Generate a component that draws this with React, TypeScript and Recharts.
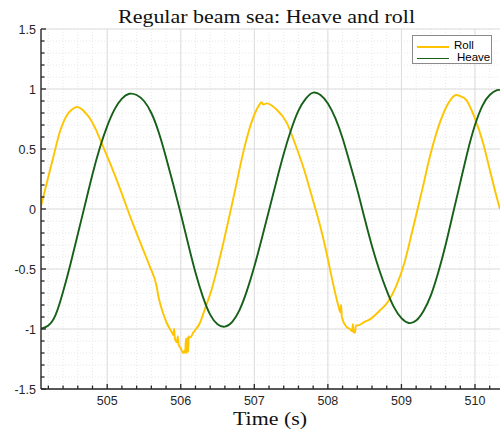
import { LineChart, Line, XAxis, YAxis, CartesianGrid, Legend } from "recharts";

// Roll (yellow) samples
const rollTime = [
  504.09, 504.18, 504.27, 504.36, 504.45, 504.52, 504.59, 504.66, 504.72, 504.78, 504.84,
  504.93, 505.04, 505.18, 505.31, 505.45, 505.58, 505.67, 505.7, 505.75, 505.81,
  505.88, 505.9, 505.91, 505.92, 505.95, 505.96, 505.97, 506.0, 506.03, 506.05,
  506.06, 506.07, 506.08, 506.09, 506.1, 506.11, 506.13, 506.17, 506.26, 506.33,
  506.42, 506.51, 506.58, 506.65, 506.74, 506.83, 506.92, 507.01, 507.07, 507.1,
  507.12, 507.17, 507.3, 507.44, 507.55, 507.66, 507.78, 507.85, 507.89, 507.98,
  508.07, 508.14, 508.17, 508.18, 508.19, 508.25, 508.3, 508.33, 508.34, 508.35,
  508.37, 508.38, 508.41, 508.5, 508.57, 508.7, 508.82, 508.93, 509.04, 509.13,
  509.22, 509.29, 509.38, 509.5, 509.61, 509.68, 509.74, 509.8, 509.88, 509.99,
  510.11, 510.2, 510.29, 510.34,
];
const rollValue = [
  0, 0.22, 0.44, 0.65, 0.78, 0.83, 0.85, 0.83, 0.79, 0.74, 0.67,
  0.54, 0.38, 0.16, -0.06, -0.28, -0.48, -0.64, -0.74, -0.85, -0.95,
  -1.03, -1.05, -1.0, -1.08, -1.11, -1.06, -1.13, -1.16, -1.2, -1.18,
  -1.2, -1.08, -1.2, -1.07, -1.19, -1.06, -1.07, -1.03, -0.95, -0.83,
  -0.67, -0.46, -0.28, -0.09, 0.16, 0.42, 0.64, 0.8, 0.87, 0.89,
  0.87, 0.88, 0.83, 0.72, 0.55, 0.36, 0.11, -0.04, -0.13, -0.36,
  -0.62, -0.8, -0.86, -0.8, -0.9, -0.98, -1.0, -1.02, -0.96, -1.03,
  -1.03, -0.97, -0.97, -0.94, -0.92, -0.85, -0.77, -0.64, -0.45, -0.23,
  0.0, 0.18, 0.42, 0.68, 0.85, 0.92, 0.95, 0.94, 0.91, 0.77,
  0.55, 0.33, 0.11, 0.0,
];

// Heave (green) samples
const heaveTime = [
  504.09, 504.2, 504.3, 504.4, 504.5, 504.6, 504.7, 504.8, 504.9, 505.0,
  505.1, 505.2, 505.3, 505.4, 505.5, 505.6, 505.7, 505.8, 505.9, 506.0,
  506.1, 506.2, 506.3, 506.4, 506.5, 506.6, 506.7, 506.8, 506.9, 507.0,
  507.1, 507.2, 507.3, 507.4, 507.5, 507.6, 507.7, 507.8, 507.9, 508.0,
  508.1, 508.2, 508.3, 508.4, 508.5, 508.6, 508.7, 508.8, 508.9, 509.0,
  509.1, 509.2, 509.3, 509.4, 509.5, 509.6, 509.7, 509.8, 509.9, 510.0,
  510.1, 510.2, 510.3, 510.34,
];
const heaveValue = [
  -1.0, -0.97, -0.88, -0.69, -0.46, -0.21, 0.04, 0.29, 0.51, 0.69,
  0.83, 0.92, 0.96, 0.95, 0.9, 0.8, 0.64, 0.43, 0.2, -0.04,
  -0.29, -0.53, -0.73, -0.88, -0.96, -0.98, -0.94, -0.84, -0.68, -0.48,
  -0.25, -0.01, 0.23, 0.46, 0.66, 0.82, 0.92, 0.97, 0.95, 0.88,
  0.76, 0.59, 0.38, 0.16, -0.08, -0.31, -0.51, -0.68, -0.82, -0.91,
  -0.95, -0.93, -0.85, -0.72, -0.53, -0.3, -0.04, 0.22, 0.48, 0.7,
  0.86, 0.95, 0.99, 0.99,
];

const xMajorTicks = [505, 506, 507, 508, 509, 510];
const yMajorTicks = [-1.5, -1, -0.5, 0, 0.5, 1, 1.5];
const seriesNames = ["Roll", "Heave"];

const X_DOMAIN = [504.1, 510.34];
const Y_DOMAIN = [-1.5, 1.5];

const ROLL_COLOR = "#ffc400";
const HEAVE_COLOR = "#17601a";
const AXIS_COLOR = "#262626";
const FONT = "'Liberation Sans', Arial, Helvetica, sans-serif";
const SERIF = "'Liberation Serif', 'Times New Roman', serif";

const rollData = rollTime.map((t, i) => ({ t, v: rollValue[i] }));
const heaveData = heaveTime.map((t, i) => ({ t, v: heaveValue[i] }));

const steps = (from: number, to: number, step: number) => {
  const out: number[] = [];
  for (let v = from; v <= to + 1e-9; v += step) out.push(Math.round(v * 10) / 10);
  return out;
};
const xAllTicks = steps(504.2, 510.2, 0.2);
const yAllTicks = steps(-1.5, 1.5, 0.1);
const isMajor = (v: number, majors: number[]) => majors.some(m => Math.abs(m - v) < 1e-6);

const BottomTick = ({ x, y, payload }: any) => {
  const major = isMajor(payload.value, xMajorTicks);
  return (
    <g>
      <line x1={x} x2={x} y1={y} y2={y - (major ? 5 : 3.5)} stroke={AXIS_COLOR} strokeWidth={1.3} />
      {major && (
        <text x={x} y={y + 16} textAnchor="middle" fontSize={12.5} fontFamily={FONT} fill={AXIS_COLOR}>
          {payload.value}
        </text>
      )}
    </g>
  );
};

const TopTick = ({ x, y, payload }: any) => {
  const major = isMajor(payload.value, xMajorTicks);
  return <line x1={x} x2={x} y1={y} y2={y + (major ? 5 : 3.5)} stroke={AXIS_COLOR} strokeWidth={1.3} />;
};

const LeftTick = ({ x, y, payload }: any) => {
  const major = isMajor(payload.value, yMajorTicks);
  return (
    <g>
      <line x1={x} x2={x + (major ? 5 : 3.5)} y1={y} y2={y} stroke={AXIS_COLOR} strokeWidth={1.3} />
      {major && (
        <text x={x - 5} y={y + 4.5} textAnchor="end" fontSize={12.5} fontFamily={FONT} fill={AXIS_COLOR}>
          {payload.value}
        </text>
      )}
    </g>
  );
};

const RightTick = ({ x, y, payload }: any) => {
  const major = isMajor(payload.value, yMajorTicks);
  return <line x1={x} x2={x - (major ? 5 : 3.5)} y1={y} y2={y} stroke={AXIS_COLOR} strokeWidth={1.3} />;
};

const LegendBox = () => (
  <div
    style={{
      position: "relative",
      width: 80,
      height: 29,
      background: "#fff",
      border: "1px solid #8a8a8a",
      boxSizing: "border-box",
      fontFamily: FONT,
      fontSize: 11.5,
      color: "#000",
    }}
  >
    {[ROLL_COLOR, HEAVE_COLOR].map((c, i) => (
      <div key={i}>
        <div style={{ position: "absolute", left: 4, top: 10 + i * 11.6, width: 32, height: 1.6, background: c }} />
        <div style={{ position: "absolute", left: i === 0 ? 41 : 44, top: 3 + i * 11.6, lineHeight: "13px" }}>
          {seriesNames[i]}
        </div>
      </div>
    ))}
  </div>
);

export default function App() {
  return (
    <div style={{ position: "absolute", left: 0, top: 0, width: 502, height: 431, background: "#fff" }}>
      <LineChart width={502} height={431} margin={{ top: 29, right: 2, bottom: 0, left: 0 }}>
        <CartesianGrid
          horizontalValues={yAllTicks}
          verticalValues={xAllTicks}
          stroke="#e2e2e2"
          strokeDasharray="1 2"
          strokeWidth={0.8}
        />
        <CartesianGrid
          horizontalValues={yMajorTicks}
          verticalValues={xMajorTicks}
          stroke="#d9d9d9"
          strokeWidth={0.9}
        />
        <XAxis
          dataKey="t"
          type="number"
          domain={X_DOMAIN}
          allowDataOverflow
          ticks={xAllTicks}
          interval={0}
          tickSize={0}
          tickMargin={0}
          tick={<BottomTick />}
          height={42}
          axisLine={{ stroke: AXIS_COLOR, strokeWidth: 1.4 }}
        />
        <XAxis
          xAxisId="top"
          orientation="top"
          dataKey="t"
          type="number"
          domain={X_DOMAIN}
          allowDataOverflow
          ticks={xAllTicks}
          interval={0}
          tickSize={0}
          tickMargin={0}
          tick={<TopTick />}
          height={0}
          axisLine={{ stroke: AXIS_COLOR, strokeWidth: 1.4 }}
        />
        <YAxis
          type="number"
          domain={Y_DOMAIN}
          allowDataOverflow
          ticks={yAllTicks}
          interval={0}
          tickSize={0}
          tickMargin={0}
          tick={<LeftTick />}
          width={41}
          axisLine={{ stroke: AXIS_COLOR, strokeWidth: 1.4 }}
        />
        <YAxis
          yAxisId="right"
          orientation="right"
          type="number"
          domain={Y_DOMAIN}
          allowDataOverflow
          ticks={yAllTicks}
          interval={0}
          tickSize={0}
          tickMargin={0}
          tick={<RightTick />}
          width={0}
          axisLine={{ stroke: AXIS_COLOR, strokeWidth: 1.4 }}
        />
        <Line
          data={rollData}
          dataKey="v"
          name="Roll"
          type="monotone"
          stroke={ROLL_COLOR}
          strokeWidth={1.9}
          dot={false}
          isAnimationActive={false}
        />
        <Line
          data={heaveData}
          dataKey="v"
          name="Heave"
          type="natural"
          stroke={HEAVE_COLOR}
          strokeWidth={1.9}
          dot={false}
          isAnimationActive={false}
        />
        <Legend
          layout="horizontal"
          verticalAlign="middle"
          align="center"
          content={() => <LegendBox />}
          wrapperStyle={{ left: 412, top: 35, width: 80, height: 29 }}
        />
        <text
          x={266.5}
          y={22.5}
          textAnchor="middle"
          fontFamily={SERIF}
          fontSize={18.5}
          textLength={297}
          lengthAdjust="spacingAndGlyphs"
          fill="#111"
        >
          Regular beam sea: Heave and roll
        </text>
        <text
          x={270}
          y={425}
          textAnchor="middle"
          fontFamily={SERIF}
          fontSize={18}
          textLength={74}
          lengthAdjust="spacingAndGlyphs"
          fill="#111"
        >
          Time (s)
        </text>
      </LineChart>
    </div>
  );
}
